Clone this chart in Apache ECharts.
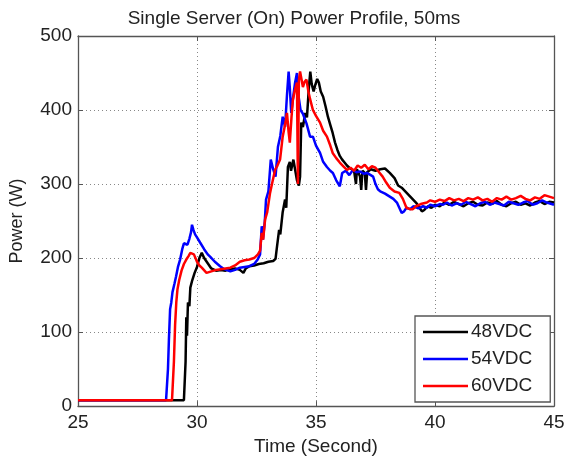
<!DOCTYPE html>
<html>
<head>
<meta charset="utf-8">
<script src="https://cdn.jsdelivr.net/npm/echarts@6/dist/echarts.min.js"></script>
<style>
  html, body { margin: 0; padding: 0; background: #fff; }
  #chart { width: 568px; height: 461px; }
</style>
</head>
<body>
<div id="chart"></div>
<script>
// Power draw of a single server during power-on, sampled every 50 ms,
// for three DC supply voltages. Each point is [time (s), power (W)].
const seriesNames = ['48VDC', '54VDC', '60VDC'];
const seriesColors = ['#000000', '#0000ff', '#ff0000'];

const xTicks = [25, 30, 35, 40, 45];
const yTicks = [0, 100, 200, 300, 400, 500];

const power48 = [
  [25,8],[29.45,8],[29.5,8],[29.52,60],[29.55,120],[29.58,95],[29.62,140],[29.68,135],[29.72,160],
  [29.8,170],[29.9,180],[30.0,188],[30.1,200],[30.2,207],[30.3,200],[30.45,193],[30.6,186],[30.8,183],
  [31.0,184],[31.2,183],[31.4,185],[31.6,186],[31.8,184],[31.95,180],[32.05,186],[32.2,189],[32.4,190],
  [32.6,192],[32.8,193],[33.0,195],[33.2,196],[33.3,199],[33.36,215],[33.45,238],[33.5,232],[33.6,262],
  [33.7,279],[33.75,268],[33.82,323],[33.9,330],[33.95,318],[34.05,333],[34.12,320],[34.2,305],[34.28,298],
  [34.33,310],[34.38,383],[34.45,377],[34.55,396],[34.62,390],[34.7,430],[34.76,452],[34.82,435],[34.9,425],
  [34.96,433],[35.05,442],[35.12,437],[35.2,425],[35.3,418],[35.4,405],[35.5,391],[35.6,380],[35.7,369],
  [35.8,356],[35.9,346],[36.0,338],[36.1,333],[36.2,329],[36.3,325],[36.4,322],[36.5,320],[36.6,318],
  [36.68,300],[36.72,320],[36.85,310],[36.9,292],[36.95,318],[37.05,315],[37.1,292],[37.15,316],[37.3,320],
  [37.5,318],[37.7,320],[37.9,321],[38.1,315],[38.3,308],[38.45,298],[38.6,295],[38.75,290],[38.9,285],
  [39.05,280],[39.2,275],[39.35,268],[39.45,263],[39.55,265],[39.7,270],[39.85,268],[40.0,272],[40.2,270],
  [40.4,275],[40.6,272],[40.8,276],[41.0,273],[41.2,270],[41.4,274],[41.6,276],[41.8,272],[42.0,271],
  [42.2,275],[42.4,273],[42.6,277],[42.8,272],[43.0,270],[43.2,274],[43.4,276],[43.6,272],[43.8,274],
  [44.0,271],[44.2,275],[44.4,277],[44.6,273],[44.8,276],[45,275]
];

const power54 = [
  [25,8],[28.7,8],[28.74,10],[28.78,50],[28.82,90],[28.87,131],[28.92,140],[28.97,154],[29.05,165],
  [29.12,175],[29.2,188],[29.29,198],[29.38,212],[29.45,220],[29.52,222],[29.6,218],[29.68,226],[29.75,235],
  [29.79,245],[29.85,238],[29.92,232],[30.0,228],[30.13,221],[30.3,212],[30.45,205],[30.55,202],[30.75,195],
  [30.97,189],[31.15,185],[31.4,182],[31.6,184],[31.8,187],[32.0,188],[32.2,189],[32.4,192],[32.55,198],
  [32.65,205],[32.72,243],[32.77,225],[32.85,250],[32.9,279],[33.0,290],[33.1,333],[33.2,320],[33.3,310],
  [33.4,350],[33.5,365],[33.6,391],[33.7,377],[33.78,420],[33.85,452],[33.9,430],[33.96,396],[34.05,420],
  [34.12,437],[34.2,450],[34.26,420],[34.35,400],[34.45,395],[34.6,382],[34.75,364],[34.87,364],[35.0,352],
  [35.17,342],[35.3,330],[35.46,323],[35.6,318],[35.71,315],[35.85,305],[36.0,297],[36.1,315],[36.25,318],
  [36.4,312],[36.55,319],[36.7,316],[36.85,317],[37.0,314],[37.14,315],[37.3,312],[37.4,310],[37.5,300],
  [37.6,293],[37.7,290],[37.9,287],[38.1,283],[38.25,280],[38.4,275],[38.5,268],[38.6,261],[38.7,263],
  [38.8,268],[38.95,266],[39.1,270],[39.3,267],[39.5,270],[39.66,268],[39.8,272],[40.0,270],[40.2,273],
  [40.34,272],[40.5,275],[40.7,271],[40.9,274],[41.1,272],[41.3,276],[41.5,273],[41.7,270],[41.9,274],
  [42.1,276],[42.3,272],[42.5,275],[42.7,273],[42.9,271],[43.1,276],[43.3,274],[43.5,272],[43.7,275],
  [43.9,277],[44.1,272],[44.3,274],[44.5,278],[44.7,275],[44.9,273],[45,272]
];

const power60 = [
  [25,8],[28.95,8],[28.99,10],[29.03,60],[29.08,110],[29.13,140],[29.18,158],[29.25,170],[29.35,183],
  [29.45,192],[29.55,198],[29.65,203],[29.72,207],[29.79,209],[29.87,205],[30.0,195],[30.1,190],[30.2,187],
  [30.4,180],[30.6,182],[30.8,184],[31.0,185],[31.2,186],[31.4,187],[31.6,190],[31.8,195],[32.0,197],
  [32.2,198],[32.4,200],[32.56,205],[32.65,210],[32.72,234],[32.78,225],[32.86,252],[32.95,262],[33.07,288],
  [33.15,300],[33.28,319],[33.38,325],[33.49,333],[33.6,364],[33.7,380],[33.78,396],[33.85,370],[33.9,356],
  [33.97,390],[34.03,414],[34.1,425],[34.2,437],[34.24,300],[34.28,440],[34.33,452],[34.4,440],[34.45,431],
  [34.52,438],[34.6,441],[34.68,425],[34.75,415],[34.87,400],[35.0,392],[35.17,383],[35.3,372],[35.46,364],
  [35.6,352],[35.7,342],[35.85,335],[36.0,329],[36.15,324],[36.3,319],[36.45,322],[36.6,318],[36.75,325],
  [36.9,322],[37.05,326],[37.2,320],[37.35,324],[37.5,322],[37.65,316],[37.8,310],[37.95,302],[38.1,295],
  [38.3,290],[38.5,288],[38.65,280],[38.8,268],[38.95,266],[39.07,266],[39.2,270],[39.4,273],[39.66,275],
  [39.8,278],[40.0,276],[40.2,279],[40.4,277],[40.6,281],[40.8,278],[41.0,280],[41.2,277],[41.4,281],
  [41.6,279],[41.8,282],[42.0,278],[42.2,280],[42.4,276],[42.6,281],[42.8,279],[43.0,283],[43.2,279],
  [43.4,281],[43.6,284],[43.8,280],[44.0,278],[44.2,282],[44.4,280],[44.6,285],[44.8,283],[45,281]
];

const seriesData = [power48, power54, power60];

const FONT = '"Liberation Sans", Arial, Helvetica, sans-serif';
const TEXT = '#222';
const FRAME = '#555';

const chart = echarts.init(document.getElementById('chart'), null, { renderer: 'canvas' });

const xMin = xTicks[0], xMax = xTicks[xTicks.length - 1];
const yMin = yTicks[0], yMax = yTicks[yTicks.length - 1];
const xStep = xTicks[1] - xTicks[0];
const yStep = yTicks[1] - yTicks[0];

// Secondary axes only close the box and carry inward ticks.
const frameAxis = {
  axisLine: { show: true, onZero: false, lineStyle: { color: FRAME, width: 1.3 } },
  axisTick: { show: true, inside: true, length: 5, lineStyle: { color: FRAME } },
  axisLabel: { show: false },
  splitLine: { show: false }
};

chart.setOption({
  animation: false,
  backgroundColor: '#fff',
  title: {
    text: 'Single Server (On) Power Profile, 50ms',
    left: 289,
    textAlign: 'center',
    top: 4,
    textStyle: { fontFamily: FONT, fontSize: 19, fontWeight: 'normal', color: TEXT }
  },
  grid: { left: 78, right: 14, top: 36, bottom: 54, containLabel: false },
  legend: {
    data: seriesNames,
    orient: 'vertical',
    left: 415,
    top: 316,
    icon: 'rect',
    itemWidth: 45,
    itemHeight: 2.5,
    itemGap: 7,
    padding: [6, 18, 6, 8],
    backgroundColor: '#fff',
    borderColor: FRAME,
    borderWidth: 1.3,
    borderRadius: 0,
    textStyle: { fontFamily: FONT, fontSize: 19, lineHeight: 20, color: TEXT, padding: [0, 0, 0, -2] }
  },
  xAxis: [
    {
      type: 'value', min: xMin, max: xMax, interval: xStep,
      name: 'Time (Second)', nameLocation: 'middle', nameGap: 22,
      nameTextStyle: { fontFamily: FONT, fontSize: 19, color: TEXT },
      axisLine: { show: true, onZero: false, lineStyle: { color: FRAME, width: 1.3 } },
      axisTick: { show: true, inside: true, length: 5, lineStyle: { color: FRAME } },
      axisLabel: { fontFamily: FONT, fontSize: 19, color: TEXT, margin: 7 },
      splitLine: { show: true, lineStyle: { color: '#888', type: [1, 3], width: 1 } }
    },
    Object.assign({ type: 'value', min: xMin, max: xMax, interval: xStep, position: 'top' }, frameAxis)
  ],
  yAxis: [
    {
      type: 'value', min: yMin, max: yMax, interval: yStep,
      name: 'Power (W)', nameLocation: 'middle', nameGap: 52,
      nameTextStyle: { fontFamily: FONT, fontSize: 18, color: TEXT },
      axisLine: { show: true, onZero: false, lineStyle: { color: FRAME, width: 1.3 } },
      axisTick: { show: true, inside: true, length: 5, lineStyle: { color: FRAME } },
      axisLabel: { fontFamily: FONT, fontSize: 19, color: TEXT, margin: 6 },
      splitLine: { show: true, lineStyle: { color: '#888', type: [1, 3], width: 1 } }
    },
    Object.assign({ type: 'value', min: yMin, max: yMax, interval: yStep, position: 'right' }, frameAxis)
  ],
  series: seriesNames.map((name, i) => ({
    name: name,
    type: 'line',
    xAxisIndex: 0,
    yAxisIndex: 0,
    data: seriesData[i],
    symbol: 'none',
    showSymbol: false,
    color: seriesColors[i],
    lineStyle: { color: seriesColors[i], width: 2.5 },
    z: 2 + i
  }))
});
</script>
</body>
</html>
